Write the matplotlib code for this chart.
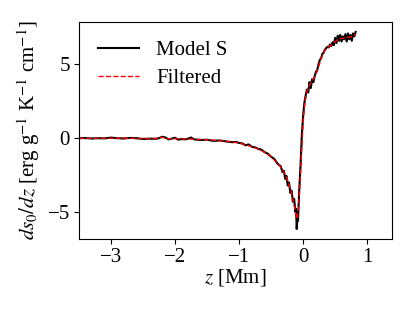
import matplotlib
matplotlib.use("Agg")
import matplotlib.pyplot as plt

plt.rcParams['font.family'] = 'serif'
plt.rcParams['font.serif'] = ['Liberation Serif', 'DejaVu Serif']
plt.rcParams['mathtext.fontset'] = 'stix'
plt.rcParams['font.size'] = 15

z_model = [-3.50, -3.40, -3.30, -3.20, -3.10, -3.00, -2.90, -2.80, -2.70, -2.60,
           -2.50, -2.40, -2.30, -2.25, -2.20, -2.15, -2.10, -2.05, -2.00, -1.95,
           -1.90, -1.85, -1.80, -1.75, -1.70, -1.60, -1.50, -1.40, -1.30, -1.20,
           -1.10, -1.05, -1.00, -0.95, -0.90, -0.85, -0.80, -0.75, -0.70, -0.65,
           -0.60, -0.55, -0.50, -0.45, -0.40, -0.35, -0.32, -0.30, -0.28, -0.26,
           -0.24, -0.22, -0.20, -0.18, -0.16, -0.14, -0.12, -0.11, -0.10, -0.09,
           -0.08, -0.06, -0.04, -0.02, 0.00, 0.02, 0.04, 0.06, 0.08, 0.10,
           0.12, 0.14, 0.16, 0.18, 0.20, 0.22, 0.24, 0.26, 0.28, 0.30,
           0.32, 0.34, 0.36, 0.38, 0.40, 0.42, 0.44, 0.46, 0.48, 0.50,
           0.52, 0.54, 0.56, 0.58, 0.60, 0.62, 0.64, 0.66, 0.68, 0.70,
           0.72, 0.74, 0.76, 0.78, 0.80, 0.82]
ds_model = [0.00, 0.01, -0.02, 0.00, -0.01, 0.04, 0.00, -0.02, 0.02, 0.00,
            -0.05, -0.03, -0.04, 0.00, 0.10, 0.05, -0.08, -0.03, 0.03, -0.10,
            -0.06, -0.08, -0.04, 0.05, -0.08, -0.12, -0.10, -0.18, -0.15, -0.22,
            -0.27, -0.25, -0.32, -0.35, -0.48, -0.42, -0.58, -0.62, -0.72, -0.78,
            -0.95, -1.05, -1.25, -1.40, -1.72, -1.90, -2.30, -2.20, -2.75, -2.55,
            -3.20, -3.00, -3.70, -3.55, -4.30, -4.10, -5.00, -4.80, -6.15, -5.50,
            -5.60, -3.50, -1.80, 0.20, 1.50, 2.40, 2.90, 3.30, 3.10, 3.80,
            3.40, 4.00, 3.80, 4.20, 4.50, 4.60, 5.00, 5.30, 5.40, 5.70,
            5.80, 6.00, 6.10, 6.20, 6.15, 6.35, 6.25, 6.50, 6.30, 6.80,
            6.45, 6.95, 6.60, 7.00, 6.55, 6.90, 6.70, 7.05, 6.55, 7.10,
            6.70, 7.00, 6.60, 7.10, 6.90, 7.20]

z_filt = [-3.50, -3.30, -3.10, -2.90, -2.70, -2.50, -2.30, -2.20, -2.10, -2.00,
          -1.90, -1.80, -1.70, -1.50, -1.30, -1.10, -1.00, -0.90, -0.80, -0.70,
          -0.60, -0.50, -0.40, -0.35, -0.30, -0.25, -0.20, -0.16, -0.13, -0.11,
          -0.09, -0.07, -0.05, -0.03, -0.01, 0.01, 0.03, 0.06, 0.10, 0.14,
          0.18, 0.22, 0.26, 0.30, 0.34, 0.38, 0.42, 0.46, 0.50, 0.55,
          0.60, 0.65, 0.70, 0.75, 0.82]
ds_filt = [0.00, -0.01, 0.00, 0.00, 0.00, -0.03, -0.02, 0.06, -0.04, -0.02,
           -0.07, -0.04, -0.07, -0.11, -0.16, -0.26, -0.32, -0.44, -0.57, -0.73,
           -0.95, -1.24, -1.70, -1.95, -2.30, -2.75, -3.40, -4.10, -4.75, -5.20,
           -5.45, -4.60, -3.20, -1.50, 0.30, 1.60, 2.50, 3.15, 3.60, 3.90,
           4.15, 4.55, 5.10, 5.60, 5.95, 6.15, 6.25, 6.40, 6.55, 6.70,
           6.75, 6.80, 6.85, 6.85, 7.05]

fig = plt.figure(figsize=(4.15, 3.11), dpi=100)
ax = fig.add_axes([0.190, 0.232, 0.755, 0.697])
ax.plot(z_model, ds_model, color='black', lw=1.5, label='Model S')
ax.plot(z_filt, ds_filt, color='red', lw=1.0, ls='--', label='Filtered')
ax.set_xlim(-3.5, 1.39)
ax.set_xticks([-3, -2, -1, 0, 1])
ax.set_yticks([-5, 0, 5])
ax.tick_params(labelsize=15, pad=3)
ax.set_xlabel(r'$z$ [Mm]', labelpad=0)
ax.set_ylabel(r'$ds_0/dz$ [erg g$^{-1}$ K$^{-1}$ cm$^{-1}$]', labelpad=4)
ax.legend(loc='upper left', frameon=False, handlelength=2.0, handletextpad=0.8,
          borderaxespad=0.5, labelspacing=0.4)
fig.savefig('out.png', dpi=100)
